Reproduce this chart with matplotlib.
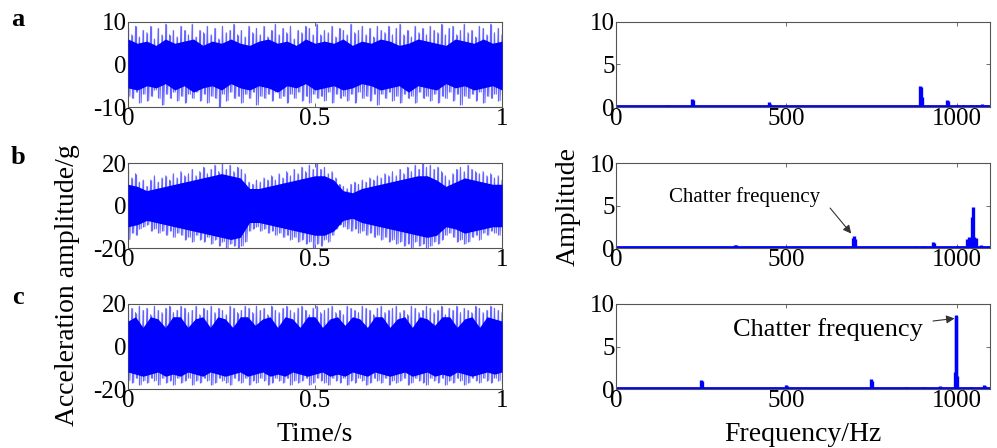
import numpy as np
import matplotlib
matplotlib.use('Agg')
import matplotlib.pyplot as plt

plt.rcParams['font.family'] = ['Liberation Serif', 'DejaVu Serif']
plt.rcParams['axes.unicode_minus'] = False

# ---- time signals ----
# spike tips, evenly spaced over 0..1 s
a_hi = [8.5,7,9,6.5,8,7.5,9,6,8.5,7,9.5,7,8,6.5,9,8,7,9.5,6.5,8,7.5,9,7,8.5,6,9,7.5,8,9.5,7,
        8,6.5,9,7.5,8.5,7,9,6.5,8,9.5,7,8.5,7.5,9,6,8,7.5,9,8.5,7,9.5,7,8,7.5,9,6.5,8.5,8,7,9.5,
        7.5,8,9,7,8.5,6.5,9,8,7.5,9,7,8.5,9.5,7,8,6.5,9,7.5,8.5,7,9,8,7.5,9.5,7,8.5,9,7,8,9.5,
        7.5,8,6.5,9,8.5,7,9.5,7.5,8.5,7]
a_lo = [-7.5,-8,-6.5,-9,-7,-8.5,-7.5,-6,-8,-9.5,-7,-8,-6.5,-8.5,-7.5,-9,-7,-8,-6.5,-8.5,
        -7,-9,-7.5,-8,-10,-7,-8.5,-6.5,-8,-7.5,-9,-7,-8,-6.5,-9.5,-7.5,-8,-7,-8.5,-6.5,
        -8,-7.5,-9,-7,-8,-6.5,-8.5,-7.5,-9,-7,-8,-7.5,-8.5,-6.5,-9,-7,-8,-7.5,-8.5,-7,
        -9,-6.5,-8,-7.5,-8.5,-7,-9.5,-7,-8,-6.5,-8.5,-7.5,-9,-7,-8,-7.5,-9,-6.5,-8,-7.5,
        -8.5,-7,-9,-7.5,-8,-6.5,-8.5,-7,-9.5,-7.5,-8,-7,-8.5,-6.5,-9,-7.5,-8,-7,-8.5,-7]
a_core_up = [6,5,5.5,4.5,6,5,5.5,6,4.5,5.5,5,6,5,4.5,5.5,6,5,5.5,4.5,6,5,
             5.5,5,6,4.5,5.5,5,6,5.5,4.5,5,6,5.5,5,4.5,6,5.5,5,6,5,5.5]
a_core_lo = [-5.5,-6,-5,-5.5,-4.5,-6,-5,-6.5,-5.5,-5,-6,-4.5,-5.5,-6,-5,-5.5,-6.5,-5,-5.5,-4.5,-6,
             -5.5,-5,-6,-5.5,-4.5,-5,-6,-5.5,-5,-6.5,-5,-5.5,-6,-4.5,-5.5,-5,-6,-5.5,-5,-6]

b_hi = [17,13,15,11,12,9,12,14,11,13, 14,12,15,13,16,14,15,17,14,16,
        18,15,17,19,16,20,17,19,16,18, 17,15,11,10,12,11,13,12,14,12,
        15,13,16,14,17,15,18,16,19,17, 20,17,18,15,16,13,10,9,8,10,
        11,10,12,11,13,12,14,13,15,14, 16,14,17,15,18,16,19,17,20,18,
        19,17,18,16,14,12,15,17,18,16, 19,17,16,15,16,14,15,13,14,12]
b_lo = [-16,-13,-14,-11,-10,-9,-12,-11,-13,-12, -14,-12,-15,-13,-14,-16,-15,-17,-14,-16,
        -17,-15,-18,-16,-19,-17,-20,-18,-19,-20, -19,-17,-12,-11,-10,-12,-11,-13,-12,-14,
        -13,-15,-14,-16,-15,-17,-16,-18,-17,-20, -18,-19,-16,-17,-14,-11,-9,-10,-11,-12,
        -11,-13,-12,-14,-13,-15,-14,-16,-15,-17, -16,-18,-17,-19,-18,-20,-17,-19,-18,-20,
        -19,-17,-18,-16,-14,-13,-15,-17,-16,-18, -17,-15,-14,-16,-13,-14,-12,-13,-14,-12]
b_core_up = [10,9,7,8,9,10,11,12,13,14,15,14,13,8,8,9,10,11,12,13,14,
             14,12,7,6,8,9,10,11,12,13,14,14,12,9,11,13,12,11,10,10]
b_core_lo = [-10,-9,-7,-8,-9,-10,-11,-12,-13,-14,-15,-16,-15,-8,-8,-9,-10,-11,-12,-13,-14,
             -14,-12,-7,-6,-8,-9,-10,-11,-12,-13,-14,-15,-14,-10,-11,-13,-12,-11,-10,-10]

c_hi = [17,18,16,19,17,18,15,19,17,16,18,19,16,17,19,18,16,17,19,15,18,17,19,16,18,17,15,19,18,16,
        17,19,18,16,19,17,18,15,19,17,16,18,19,17,16,18,19,17,15,18,19,16,17,18,19,16,17,15,19,18,
        17,16,19,18,17,15,18,19,16,17,18,19,16,17,15,19,18,16,17,19,18,16,17,19,15,18,17,19,16,18,
        17,16,19,18,16,17,19,18,17,16]
c_lo = [-16,-17,-15,-18,-16,-17,-15,-16,-18,-15,-17,-16,-18,-15,-17,-16,-15,-18,-16,-17,
        -15,-16,-18,-17,-15,-16,-17,-18,-15,-16,-17,-15,-18,-16,-17,-15,-16,-18,-17,-15,
        -16,-17,-15,-18,-16,-17,-16,-15,-18,-17,-15,-16,-17,-18,-15,-16,-17,-15,-18,-16,
        -17,-15,-16,-18,-17,-15,-16,-17,-15,-18,-16,-17,-16,-15,-18,-17,-15,-16,-17,-18,
        -15,-16,-17,-15,-18,-16,-17,-15,-16,-18,-17,-15,-16,-17,-15,-16,-17,-15,-16,-17]
c_core_up = [12,14,9,14,13,9,14,14,9,13,14,9,14,13,9,14,14,10,13,14,9,14,13,9,14,14,
             9,13,14,10,14,13,9,14,14,9,13,14,9,14,13,10,14,14,9,13,14,9,14,13,12]
c_core_lo = [-12,-13,-14,-13,-12,-14,-13,-14,-12,-13,-14,-12,-13,-14,-13,-12,-14,-13,-12,-14,
             -13,-14,-12,-13,-14,-13,-12,-14,-13,-14,-12,-13,-14,-12,-13,-14,-13,-12,-14,-13,
             -12,-14,-13,-14,-12,-13,-14,-13,-12,-13,-12]

# ---- spectra: peak frequency (Hz) and amplitude ----
fa = [150, 223, 226, 449, 452, 672, 830, 850, 870, 893, 896, 899, 970, 973, 1000, 1020, 1040, 1060, 1075, 1085]
aa = [0.25, 0.9, 0.8, 0.55, 0.4, 0.15, 0.15, 0.15, 0.1, 2.5, 2.4, 1.2, 0.8, 0.7, 0.2, 0.2, 0.2, 0.25, 0.3, 0.2]
fb = [117, 349, 352, 696, 699, 702, 850, 880, 900, 930, 933, 1000, 1030, 1035, 1040, 1045, 1047, 1050, 1055, 1070, 1090]
ab = [0.15, 0.4, 0.3, 1.2, 1.4, 1.1, 0.15, 0.2, 0.2, 0.7, 0.6, 0.2, 1.1, 1.3, 1.2, 3.6, 4.8, 1.3, 1.2, 0.3, 0.2]
fc = [170, 248, 251, 320, 499, 502, 680, 747, 750, 850, 900, 950, 994, 996, 998, 1000, 1040, 1079, 1082]
ac = [0.1, 1.1, 0.9, 0.1, 0.5, 0.4, 0.1, 1.2, 1.0, 0.2, 0.25, 0.3, 2.0, 8.7, 8.5, 1.5, 0.2, 0.5, 0.4]
base = 0.08
fmax = 1097

spikes = [(a_hi, a_lo, a_core_up, a_core_lo, 10),
          (b_hi, b_lo, b_core_up, b_core_lo, 20),
          (c_hi, c_lo, c_core_up, c_core_lo, 20)]
spectra = [(fa, aa), (fb, ab), (fc, ac)]

fig = plt.figure(figsize=(9.97, 4.48), dpi=100)
bottoms = [1 - 107/448, 1 - 248/448, 1 - 389/448]
h = 85/448
fs = 18
lfs = 20
light = (0.4, 0.4, 1.0)

def style(ax):
    for s in ax.spines.values():
        s.set_color('#555555')
        s.set_linewidth(0.8)
    ax.tick_params(direction='in', top=True, right=True, length=3, width=0.6,
                   color='#555555', labelsize=fs, pad=1)

for i in range(3):
    hi, lo, cu, cl, lim = spikes[i]
    ax = fig.add_axes([128/997, bottoms[i], 374/997, h])
    t = np.linspace(0, 1, len(hi))
    dt = t[1] - t[0]
    # zig-zag trace between the read spike tips, plus the tips themselves
    xz = np.column_stack([t, t + dt / 2]).ravel()
    yz = np.column_stack([hi, lo]).ravel()
    ax.plot(xz, yz, color=light, lw=0.7)
    ax.vlines(t, lo, hi, color=light, lw=0.9)
    tc = np.linspace(0, 1, len(cu))
    ax.fill_between(tc, cl, cu, color='blue', lw=0, zorder=3)
    ax.set_xlim(0, 1)
    ax.set_ylim(-lim, lim)
    ax.set_xticks([0, 0.5, 1])
    ax.set_xticklabels(['0', '0.5', '1'])
    ax.set_yticks([-lim, 0, lim])
    style(ax)

    f, amp = spectra[i]
    ax2 = fig.add_axes([616/997, bottoms[i], 374/997, h])
    ax2.hlines(base, 0, fmax, color='blue', lw=2)
    ax2.vlines(f, 0, amp, color='blue', lw=2.4)
    ax2.set_xlim(0, fmax)
    ax2.set_ylim(0, 10)
    ax2.set_xticks([0, 500, 1000])
    ax2.set_yticks([0, 5, 10])
    style(ax2)
    if i == 1:
        ax2.text(378, 6.0, 'Chatter frequency', fontsize=15, ha='center', va='center')
        ax2.annotate('', xy=(690, 1.7), xytext=(628, 4.7),
                     arrowprops=dict(arrowstyle='-|>', color='#333333', lw=0.8,
                                     shrinkA=0, shrinkB=0, mutation_scale=12))
    if i == 2:
        ax2.text(621, 7.0, 'Chatter frequency', fontsize=19, ha='center', va='center')
        ax2.annotate('', xy=(993, 8.3), xytext=(930, 8.0),
                     arrowprops=dict(arrowstyle='-|>', color='#333333', lw=0.8,
                                     shrinkA=0, shrinkB=0, mutation_scale=12))

fig.text(315/997, 1 - 441/448, 'Time/s', fontsize=lfs, ha='center', va='baseline')
fig.text(803/997, 1 - 441/448, 'Frequency/Hz', fontsize=lfs, ha='center', va='baseline')
fig.text(68/997, 1 - 285/448, 'Acceleration amplitude/g', rotation=90, fontsize=lfs,
         ha='center', va='center')
fig.text(568/997, 1 - 207/448, 'Amplitude', rotation=90, fontsize=lfs,
         ha='center', va='center')
for lab, y in zip(['a', 'b', 'c'], [20, 158, 298]):
    fig.text(18/997, 1 - y/448, lab, fontsize=19, fontweight='bold', ha='center', va='center')

fig.savefig('out.png', dpi=100)
